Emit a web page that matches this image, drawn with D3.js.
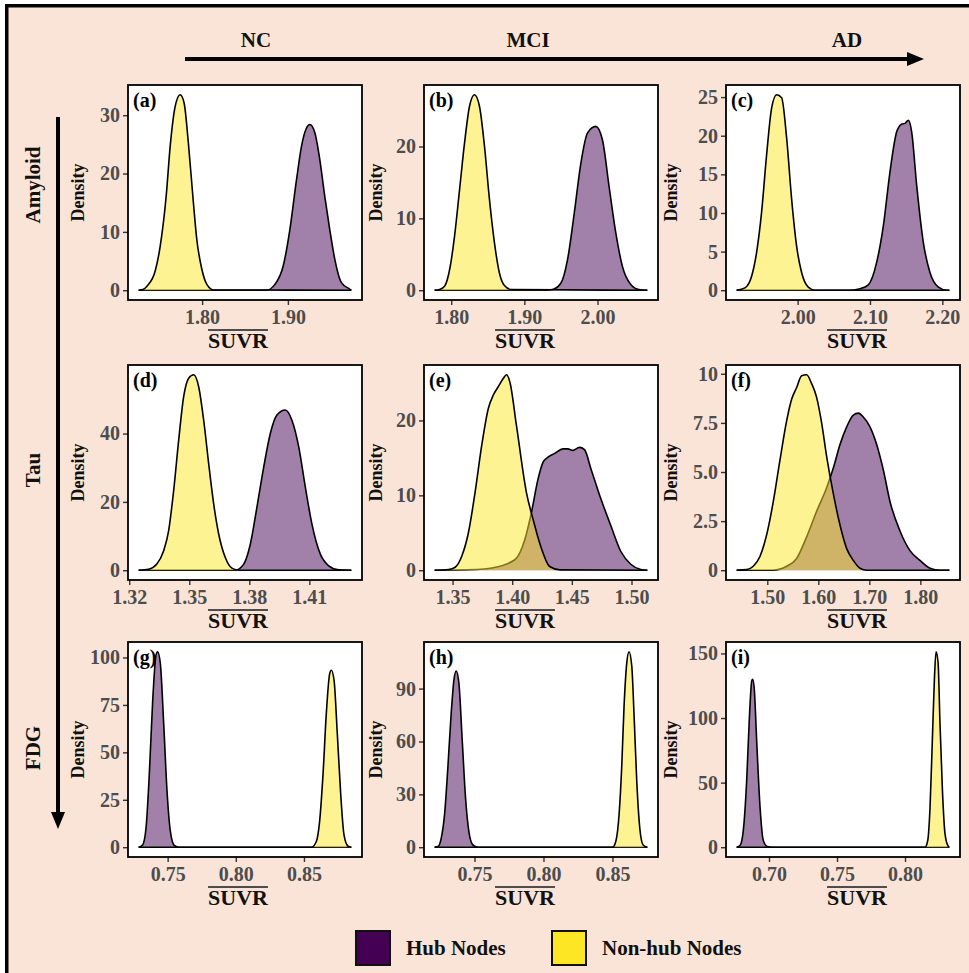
<!DOCTYPE html>
<html>
<head>
<meta charset="utf-8">
<script src="https://cdn.jsdelivr.net/npm/d3@7"></script>
<style>
    body { margin: 0; background: #fff; }
    svg text { font-family: "Liberation Serif", "Times New Roman", serif; font-weight: bold; }
</style>
</head>
<body>
<svg id="chart" width="969" height="973"></svg>
<script>
// --- labels ---
const stages = ["NC", "MCI", "AD"];
const tracers = ["Amyloid", "Tau", "FDG"];
const groups = ["Hub Nodes", "Non-hub Nodes"];
const groupColors = ["#440154", "#FDE725"];
const panelTags = ["(a)", "(b)", "(c)", "(d)", "(e)", "(f)", "(g)", "(h)", "(i)"];

// --- density curves: [SUVR, density] ---
const hubA = [[1.726,0],[1.875,0],[1.8849,1.0],[1.8946,4.2],[1.9023,10.4],[1.9101,19],[1.9159,24.7],[1.9217,27.8],[1.9256,28.4],[1.9314,27],[1.9372,22.4],[1.943,16.1],[1.9488,10.4],[1.9547,5.3],[1.9624,1.3],[1.972,0.2],[1.974,0]];
const nonHubA = [[1.726,0],[1.731,0.1],[1.7357,0.7],[1.7453,3.3],[1.7512,7.6],[1.7581,16.1],[1.7628,24.7],[1.7686,31.5],[1.7744,33.5],[1.779,32.1],[1.784,25.2],[1.7892,16.1],[1.7938,8.7],[1.7997,3.6],[1.8055,1.0],[1.8132,0.05],[1.974,0]];

const hubB = [[1.7773,0],[1.93,0],[1.9386,0.1],[1.95,1.0],[1.9591,4.3],[1.9682,10.7],[1.9773,17.7],[1.9864,21.9],[1.9977,22.8],[2.0068,20.9],[2.0159,14.4],[2.025,8.0],[2.0341,3.3],[2.0455,0.8],[2.0568,0.1],[2.0682,0]];
const nonHubB = [[1.7773,0],[1.784,0.1],[1.7909,0.55],[1.7986,3.3],[1.8045,7.5],[1.8114,14],[1.8182,20.5],[1.825,25.6],[1.8318,27.2],[1.8386,25.6],[1.8455,20],[1.8523,12.6],[1.8591,6.6],[1.8659,2.4],[1.8727,0.65],[1.8818,0.1],[2.0682,0]];

const hubC = [[1.9157,0],[2.07,0],[2.0862,0.2],[2.0977,0.7],[2.1092,3.6],[2.1184,8.3],[2.1276,15.3],[2.1369,20.5],[2.1438,21.5],[2.1484,21.6],[2.153,22.0],[2.1576,20.5],[2.1645,13.6],[2.1737,6.2],[2.1829,2.3],[2.1945,0.4],[2.206,0],[2.2097,0]];
const nonHubC = [[1.9157,0],[1.9272,0.3],[1.9364,1.8],[1.9433,4.9],[1.9502,10.1],[1.9571,17.5],[1.9641,23.6],[1.971,25.3],[1.9779,24.9],[1.9848,19.7],[1.9917,11.8],[1.9986,5.7],[2.0055,2.3],[2.0147,0.4],[2.024,0],[2.2097,0]];

const hubD = [[1.3247,0],[1.373,0],[1.3772,1.8],[1.3805,7.6],[1.3838,18.4],[1.3872,30.2],[1.3905,40],[1.3938,45.4],[1.398,46.9],[1.4013,43.9],[1.4047,36.1],[1.408,24.3],[1.4113,13.5],[1.4155,4.7],[1.4197,1.3],[1.4247,0.1],[1.431,0]];
const nonHubD = [[1.3247,0],[1.3297,0.3],[1.3338,1.8],[1.3372,5.7],[1.3397,11.6],[1.3422,23.3],[1.3447,38],[1.3472,50.8],[1.3497,56.2],[1.3522,57.2],[1.3547,53.7],[1.3572,43.9],[1.3597,31.2],[1.3622,19.4],[1.3647,10.6],[1.368,3.7],[1.3713,0.6],[1.3747,0],[1.431,0]];

const hubE = [[1.335,0],[1.37,0.1],[1.3828,0.3],[1.4022,1.4],[1.4106,4.1],[1.4161,7.7],[1.4217,12.2],[1.4258,14.4],[1.43,15.1],[1.4356,15.6],[1.4425,16.2],[1.4467,16.2],[1.4508,16.0],[1.4564,16.4],[1.4606,16.1],[1.4661,13.5],[1.4744,9.5],[1.4828,5.9],[1.4911,2.5],[1.4994,0.8],[1.5078,0.1],[1.5133,0]];
const nonHubE = [[1.335,0],[1.3467,0.1],[1.3522,0.4],[1.3578,1.9],[1.3633,5.0],[1.3689,10.4],[1.3744,16.6],[1.38,21.6],[1.3842,23.4],[1.3883,24.5],[1.3925,25.6],[1.3953,26.1],[1.3981,25.1],[1.4036,19.3],[1.4119,10.4],[1.4175,6.8],[1.4239,3.2],[1.4314,0.5],[1.44,0.05],[1.5133,0]];

const hubF = [[1.4399,0],[1.5118,0],[1.5379,0.2],[1.5575,0.6],[1.5771,1.7],[1.5967,3.0],[1.6163,4.2],[1.6294,5.2],[1.6425,6.4],[1.6556,7.3],[1.6686,7.9],[1.6784,8.0],[1.6882,7.8],[1.7013,7.3],[1.7144,6.4],[1.7275,5.1],[1.7405,3.5],[1.7601,2.0],[1.7797,1.0],[1.7993,0.5],[1.819,0.1],[1.8386,0],[1.8569,0]];
const nonHubF = [[1.4399,0],[1.4595,0.03],[1.4725,0.2],[1.4856,0.7],[1.4987,1.8],[1.5118,3.5],[1.5248,5.6],[1.5379,7.6],[1.5477,8.7],[1.5575,9.3],[1.5673,9.9],[1.5771,9.95],[1.5869,9.5],[1.5967,8.8],[1.6065,7.5],[1.6163,5.8],[1.6294,3.9],[1.6425,2.3],[1.6556,1.1],[1.6686,0.5],[1.6817,0.1],[1.6948,0],[1.8569,0]];

const hubG = [[0.7287,0],[0.7316,1.2],[0.7341,10],[0.7365,38],[0.739,77],[0.7414,101],[0.7426,103],[0.7446,97],[0.7471,65],[0.7495,30],[0.752,8.3],[0.7549,0.9],[0.7586,0],[0.8848,0]];
const nonHubG = [[0.7287,0],[0.8554,0],[0.8591,3],[0.8615,13.6],[0.864,38.4],[0.8664,70.3],[0.8689,91.5],[0.8701,93.3],[0.8721,88],[0.8745,59.6],[0.877,27.8],[0.8794,6.5],[0.8824,0.5],[0.8848,0]];

const hubH = [[0.7211,0],[0.7235,0.4],[0.7259,5.2],[0.7283,18.6],[0.7307,45.4],[0.7331,76],[0.7351,95],[0.7367,100],[0.7387,93],[0.7411,60.7],[0.7435,28.1],[0.7459,9],[0.7488,1.3],[0.7524,0],[0.8753,0]];
const nonHubH = [[0.7211,0],[0.85,0],[0.8524,3.3],[0.8548,18.6],[0.8567,45.4],[0.8584,79.9],[0.8604,104.7],[0.862,110.9],[0.864,102.8],[0.8657,74.1],[0.8676,37.7],[0.8698,10.9],[0.8722,1.3],[0.8753,0]];

const hubI = [[0.6762,0],[0.6787,1.3],[0.6811,13],[0.6836,52],[0.6855,98.8],[0.6873,128.7],[0.688,130],[0.6892,122],[0.6909,83.2],[0.6934,31.2],[0.6958,5.2],[0.6988,0.5],[0.702,0],[0.8326,0]];
const nonHubI = [[0.6762,0],[0.8147,0],[0.8167,5.2],[0.8184,31.2],[0.8201,83.2],[0.8216,130],[0.8228,151.3],[0.8243,143],[0.8257,96.2],[0.8275,44.2],[0.8294,10.4],[0.8319,0.5],[0.8326,0]];

// --- tick values ---
const xTicksA = [1.80, 1.90];
const xTicksB = [1.80, 1.90, 2.00];
const xTicksC = [2.00, 2.10, 2.20];
const xTicksD = [1.32, 1.35, 1.38, 1.41];
const xTicksE = [1.35, 1.40, 1.45, 1.50];
const xTicksF = [1.50, 1.60, 1.70, 1.80];
const xTicksG = [0.75, 0.80, 0.85];
const xTicksH = [0.75, 0.80, 0.85];
const xTicksI = [0.70, 0.75, 0.80];

const yTicksA = [0, 10, 20, 30];
const yTicksB = [0, 10, 20];
const yTicksC = [0, 5, 10, 15, 20, 25];
const yTicksD = [0, 20, 40];
const yTicksE = [0, 10, 20];
const yTicksF = [0, 2.5, 5, 7.5, 10];
const yLabelsF = ["0", "2.5", "5.0", "7.5", "10"];
const yTicksG = [0, 25, 50, 75, 100];
const yTicksH = [0, 30, 60, 90];
const yTicksI = [0, 50, 100, 150];

const panels = [
    { hub: hubA, nonHub: nonHubA, xTicks: xTicksA, yTicks: yTicksA },
    { hub: hubB, nonHub: nonHubB, xTicks: xTicksB, yTicks: yTicksB },
    { hub: hubC, nonHub: nonHubC, xTicks: xTicksC, yTicks: yTicksC },
    { hub: hubD, nonHub: nonHubD, xTicks: xTicksD, yTicks: yTicksD },
    { hub: hubE, nonHub: nonHubE, xTicks: xTicksE, yTicks: yTicksE },
    { hub: hubF, nonHub: nonHubF, xTicks: xTicksF, yTicks: yTicksF, yLabels: yLabelsF },
    { hub: hubG, nonHub: nonHubG, xTicks: xTicksG, yTicks: yTicksG },
    { hub: hubH, nonHub: nonHubH, xTicks: xTicksH, yTicks: yTicksH },
    { hub: hubI, nonHub: nonHubI, xTicks: xTicksI, yTicks: yTicksI }
];

// --- layout ---
const colLeft = [128, 424, 726];
const rowTop = [85, 365, 642];
const boxW = 234, boxH = 215;
const densityOffset = [44, 42, 49];
const suvrCenter = [238, 525, 857];
const tickGray = "#4D4D4D";

const svg = d3.select("#chart");

// --- frame ---
svg.append("rect").attr("x", 5).attr("y", 4).attr("width", 964).attr("height", 969).attr("fill", "#000");
svg.append("rect").attr("x", 8.5).attr("y", 7.5).attr("width", 961).attr("height", 966).attr("fill", "#FAE4D7");

// --- stage arrow (top) ---
svg.append("line")
    .attr("x1", 185).attr("x2", 910).attr("y1", 59).attr("y2", 59)
    .attr("stroke", "#000").attr("stroke-width", 4);
svg.append("path").attr("d", "M907,52 L924,59 L907,66 Z").attr("fill", "#000");
const stageX = [256, 528, 847];
svg.selectAll("text.stage").data(stages).join("text")
    .attr("class", "stage")
    .attr("x", (_, i) => stageX[i]).attr("y", 47)
    .attr("text-anchor", "middle").attr("font-size", 21)
    .attr("fill", "#111")
    .text(d => d);

// --- tracer arrow (left) ---
svg.append("line")
    .attr("x1", 58).attr("x2", 58).attr("y1", 117).attr("y2", 815)
    .attr("stroke", "#000").attr("stroke-width", 4);
svg.append("path").attr("d", "M51,812 L58,829 L65,812 Z").attr("fill", "#000");
const tracerY = [185, 470, 748];
svg.selectAll("text.tracer").data(tracers).join("text")
    .attr("class", "tracer")
    .attr("transform", (_, i) => `translate(40,${tracerY[i]}) rotate(-90)`)
    .attr("text-anchor", "middle").attr("font-size", 21)
    .attr("fill", "#111")
    .text(d => d);

// --- panels ---
const defs = svg.append("defs");

panels.forEach((p, idx) => {
    const col = idx % 3, row = Math.floor(idx / 3);
    const left = colLeft[col], top = rowTop[row];

    const allPts = p.hub.concat(p.nonHub);
    const ext = d3.extent(allPts, d => d[0]);
    const pad = (ext[1] - ext[0]) * 0.05;
    const x = d3.scaleLinear().domain([ext[0] - pad, ext[1] + pad]).range([0, boxW]);
    const ymax = d3.max(allPts, d => d[1]);
    const y = d3.scaleLinear().domain([-0.05 * ymax, 1.05 * ymax]).range([boxH, 0]);

    const g = svg.append("g").attr("transform", `translate(${left},${top})`);

    defs.append("clipPath").attr("id", "clip" + idx)
        .append("rect").attr("width", boxW).attr("height", boxH);

    g.append("rect").attr("width", boxW).attr("height", boxH).attr("fill", "#fff");

    const area = d3.area().x(d => x(d[0])).y0(y(0)).y1(d => y(d[1])).curve(d3.curveMonotoneX);
    const line = d3.line().x(d => x(d[0])).y(d => y(d[1])).curve(d3.curveMonotoneX);

    const plot = g.append("g").attr("clip-path", `url(#clip${idx})`);
    [p.hub, p.nonHub].forEach((series, k) => {
        plot.append("path").attr("d", area(series))
            .attr("fill", groupColors[k]).attr("fill-opacity", 0.5);
        plot.append("path").attr("d", line(series))
            .attr("fill", "none").attr("stroke", "#000").attr("stroke-width", 1.6)
            .attr("stroke-linejoin", "round");
    });

    // --- axes ---
    const xAxis = g.append("g").attr("transform", `translate(0,${boxH})`)
        .call(d3.axisBottom(x).tickValues(p.xTicks).tickFormat(d3.format(".2f"))
            .tickSize(5).tickSizeOuter(0).tickPadding(5));
    const yAxis = g.append("g")
        .call(d3.axisLeft(y).tickValues(p.yTicks)
            .tickFormat((d, i) => p.yLabels ? p.yLabels[i] : d3.format("d")(d))
            .tickSize(5).tickSizeOuter(0).tickPadding(3));
    [xAxis, yAxis].forEach(a => {
        a.select(".domain").remove();
        a.selectAll(".tick line").attr("stroke", "#333").attr("stroke-width", 1.4);
        a.selectAll(".tick text")
            .attr("font-size", 20).attr("fill", tickGray)
            .attr("font-family", "'Liberation Serif', 'Times New Roman', serif")
            .attr("font-weight", "bold");
    });

    // --- border ---
    g.append("rect").attr("width", boxW).attr("height", boxH)
        .attr("fill", "none").attr("stroke", "#000").attr("stroke-width", 1.8);

    // --- panel tag ---
    g.append("text").attr("x", 5).attr("y", 22)
        .attr("font-size", 20).attr("fill", "#000")
        .text(panelTags[idx]);

    // --- axis titles ---
    g.append("text")
        .attr("transform", `translate(${-densityOffset[col]},${boxH / 2}) rotate(-90)`)
        .attr("text-anchor", "middle").attr("font-size", 18).attr("fill", "#111")
        .text("Density");

    const suvr = svg.append("text")
        .attr("x", suvrCenter[col]).attr("y", top + boxH + 48)
        .attr("text-anchor", "middle").attr("font-size", 22).attr("fill", "#111")
        .text("SUVR");
    const tw = suvr.node().getComputedTextLength();
    svg.append("line")
        .attr("x1", suvrCenter[col] - tw / 2).attr("x2", suvrCenter[col] + tw / 2)
        .attr("y1", top + boxH + 30).attr("y2", top + boxH + 30)
        .attr("stroke", tickGray).attr("stroke-width", 2);
});

// --- legend ---
const legendX = [356, 552];
const legend = svg.selectAll("g.legend").data(groups).join("g")
    .attr("class", "legend")
    .attr("transform", (_, i) => `translate(${legendX[i]},931)`);
legend.append("rect").attr("width", 34).attr("height", 34)
    .attr("fill", (_, i) => groupColors[i]).attr("stroke", "#111").attr("stroke-width", 2);
legend.append("text").attr("x", 50).attr("y", 24)
    .attr("font-size", 21).attr("fill", "#111")
    .text(d => d);
</script>
</body>
</html>
